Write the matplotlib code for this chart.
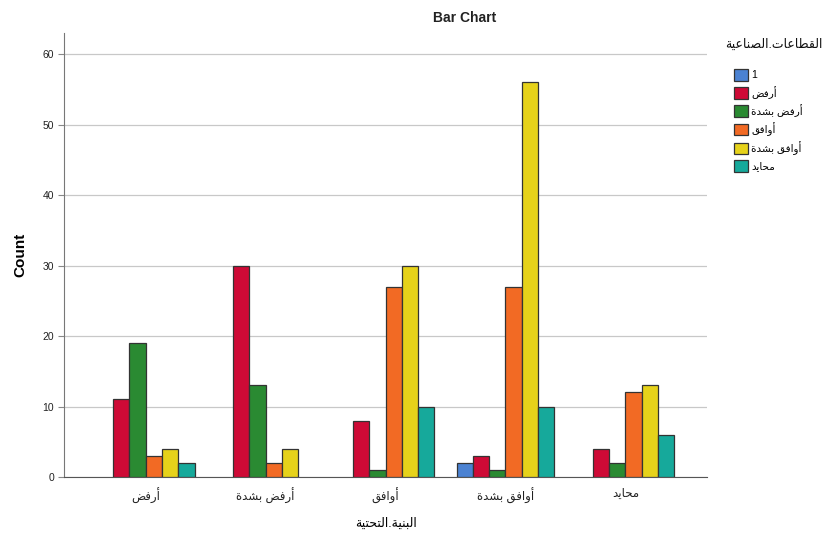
import numpy as np
import matplotlib
matplotlib.use("Agg")
import matplotlib.pyplot as plt

plt.rcParams['font.family'] = ['Liberation Sans', 'DejaVu Sans']

# ---------------- data ----------------
categories = ["أرفض", "أرفض بشدة", "أوافق", "أوافق بشدة", "محايد"]
series_labels = ["1", "أرفض", "أرفض بشدة", "أوافق", "أوافق بشدة", "محايد"]
vals_1 = [0, 0, 0, 2, 0]
vals_reject = [11, 30, 8, 3, 4]
vals_strong_reject = [19, 13, 1, 1, 2]
vals_agree = [3, 2, 27, 27, 12]
vals_strong_agree = [4, 4, 30, 56, 13]
vals_neutral = [2, 0, 10, 10, 6]
series_values = [vals_1, vals_reject, vals_strong_reject, vals_agree,
                 vals_strong_agree, vals_neutral]
y_ticks = [0, 10, 20, 30, 40, 50, 60]
title = "Bar Chart"
y_label = "Count"
x_label = "البنية.التحتية"
legend_title = "القطاعات.الصناعية"

colors = ["#4B82D2", "#CE0A36", "#2A8A32", "#F26A24", "#E6D21A", "#16A99B"]

# ------------- minimal Arabic shaping (matplotlib has no bidi/shaping) -------------
_dual = {'ب': 0xFE8F, 'ت': 0xFE95, 'ح': 0xFEA1, 'ش': 0xFEB5, 'ص': 0xFEB9,
         'ض': 0xFEBD, 'ط': 0xFEC1, 'ع': 0xFEC9, 'ف': 0xFED1, 'ق': 0xFED5,
         'ل': 0xFEDD, 'م': 0xFEE1, 'ن': 0xFEE5, 'ه': 0xFEE9, 'ي': 0xFEF1}
_right = {'ا': 0xFE8D, 'أ': 0xFE83, 'ة': 0xFE93, 'د': 0xFEA9, 'ر': 0xFEAD,
          'و': 0xFEED}


def shape(s):
    out = []
    n = len(s)
    for i, c in enumerate(s):
        if c not in _dual and c not in _right:
            out.append(c)
            continue
        prev = s[i - 1] if i > 0 else None
        nxt = s[i + 1] if i < n - 1 else None
        jp = prev in _dual
        jn = (c in _dual) and (nxt in _dual or nxt in _right)
        base = _dual.get(c, _right.get(c))
        if jp and jn:
            g = base + 3
        elif jp:
            g = base + 1
        elif jn:
            g = base + 2
        else:
            g = base
        out.append(chr(g))
    return ''.join(reversed(out))


# ---------------- figure ----------------
W, H = 825, 542
fig = plt.figure(figsize=(W / 100, H / 100), dpi=100)
ax = fig.add_axes([64 / W, 1 - 477 / H, (707 - 64) / W, (477 - 33) / H])

x = np.arange(len(categories))
n_series = len(series_values)
w = 0.136
handles = []
for i, (vals, col) in enumerate(zip(series_values, colors)):
    offs = (i - (n_series - 1) / 2) * w
    hts = [v if v > 0 else np.nan for v in vals]
    bc = ax.bar(x + offs, hts, width=w, color=col, edgecolor="#333333",
                linewidth=0.9, zorder=3, label=shape(series_labels[i]))
    handles.append(bc)

ax.set_xlim(-0.68, len(categories) - 1 + 0.68)
ax.set_ylim(0, 63)
ax.set_yticks(y_ticks)
ax.set_yticklabels([str(t) for t in y_ticks], fontsize=7.5, color="#222222")
ax.set_xticks(x)
ax.set_xticklabels([shape(c) for c in categories], fontsize=8.5, color="#222222")
ax.tick_params(axis='x', length=0, pad=8)
ax.tick_params(axis='y', length=4, color="#888888", pad=3)
ax.yaxis.grid(True, color="#C8C8C8", linewidth=0.9, zorder=0)
ax.set_axisbelow(True)
for s in ["top", "right"]:
    ax.spines[s].set_visible(False)
ax.spines["left"].set_color("#777777")
ax.spines["bottom"].set_color("#555555")

ax.set_ylabel(y_label, fontsize=11, fontweight="bold", labelpad=11)
ax.set_xlabel(shape(x_label), fontsize=9, labelpad=10)

fig.text(465 / W, 1 - 18 / H, title, fontsize=10, fontweight="bold",
         ha="center", va="center", color="#222222")

fig.text(823 / W, 1 - 45 / H, shape(legend_title), fontsize=9,
         ha="right", va="center", color="#111111")
leg = fig.legend(handles=handles, loc="upper left",
                 bbox_to_anchor=(734 / W, 1 - 69 / H), frameon=False,
                 fontsize=7.5, handlelength=1.35, handleheight=1.35,
                 handletextpad=0.3, labelspacing=0.48, borderpad=0,
                 borderaxespad=0)

fig.savefig("out.png", dpi=100)
